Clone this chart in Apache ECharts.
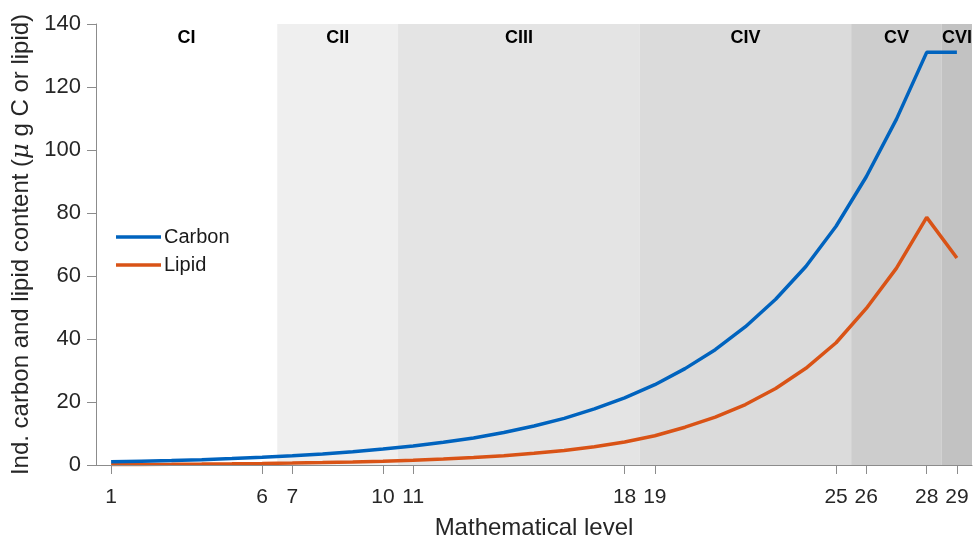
<!DOCTYPE html>
<html>
<head>
<meta charset="utf-8">
<script src="https://cdn.jsdelivr.net/npm/echarts@6/dist/echarts.min.js"></script>
<style>html,body{margin:0;padding:0;background:#fff;}#c{width:974px;height:545px;}</style>
</head>
<body>
<div id="c"></div>
<script>
// Mathematical levels
var levels = [1,2,3,4,5,6,7,8,9,10,11,12,13,14,15,16,17,18,19,20,21,22,23,24,25,26,27,28,29];
// Individual carbon content (µg C)
var carbon = [1.0,1.2,1.4,1.7,2.05,2.45,2.95,3.5,4.2,5.05,6.0,7.2,8.6,10.3,12.4,14.8,17.8,21.3,25.5,30.6,36.6,43.9,52.6,63.0,75.8,91.5,109.8,131,131];
// Individual lipid content (µg lipid)
var lipid = [0.15,0.19,0.24,0.3,0.38,0.48,0.6,0.76,0.95,1.2,1.5,1.9,2.4,2.95,3.7,4.6,5.8,7.3,9.3,12.0,15.2,19.2,24.3,30.7,38.8,49.7,62.5,78.6,65.7];
// Stage names and their level ranges
var stageNames = ['CI','CII','CIII','CIV','CV','CVI'];
var stageStart = [0.5,6.5,10.5,18.5,25.5,28.5];
var stageEnd   = [6.5,10.5,18.5,25.5,28.5,29.5];
var stageColors = ['#ffffff','#efefef','#e4e4e4','#dbdbdb','#cdcdcd','#c2c2c2'];
// X tick labels
var xTicks = [1,6,7,10,11,18,19,25,26,28,29];

var FONT = 'Liberation Sans, Arial, Helvetica, sans-serif';

function pairs(ys){ return levels.map(function(x,i){ return [x, ys[i]]; }); }

var areas = stageNames.map(function(n,i){
  return [{name:n, xAxis:stageStart[i], itemStyle:{color:stageColors[i]}}, {xAxis:stageEnd[i]}];
});

var chart = echarts.init(document.getElementById('c'), null, {renderer:'canvas'});
chart.setOption({
  backgroundColor:'#ffffff',
  animation:false,
  textStyle:{fontFamily:FONT},
  grid:{left:96, right:2, top:24, bottom:75, containLabel:false},
  legend:{
    orient:'vertical', left:111, top:220, icon:'rect', itemWidth:45, itemHeight:3.5, itemGap:4,
    textStyle:{fontFamily:FONT, fontSize:20, color:'#1a1a1a', lineHeight:24, padding:[0,0,0,-2]},
    data:['Carbon','Lipid']
  },
  xAxis:{
    type:'value', min:0.5, max:29.5, z:10,
    name:'Mathematical level', nameLocation:'middle', nameGap:51,
    nameTextStyle:{fontFamily:FONT, fontSize:24, color:'#262626'},
    axisLine:{show:true, onZero:false, lineStyle:{color:'#8c8c8c', width:1}},
    axisTick:{show:true, inside:false, length:9, customValues:xTicks, lineStyle:{color:'#8c8c8c'}},
    axisLabel:{customValues:xTicks, margin:22, fontFamily:FONT, fontSize:21, color:'#262626'},
    splitLine:{show:false}
  },
  yAxis:{
    type:'value', min:0, max:140, interval:20, z:10,
    name:'{a|Ind. carbon and lipid content (}{i|μ}{a| g C or lipid)}',
    nameLocation:'middle', nameGap:58, nameRotate:90,
    nameTextStyle:{fontFamily:FONT, fontSize:24, color:'#262626',
      rich:{a:{fontFamily:FONT, fontSize:24, color:'#262626'}, i:{fontFamily:'DejaVu Serif, serif', fontStyle:'italic', fontSize:24, color:'#262626'}}},
    axisLine:{show:true, onZero:false, lineStyle:{color:'#8c8c8c', width:1}},
    axisTick:{show:true, inside:false, length:9, lineStyle:{color:'#8c8c8c'}},
    axisLabel:{margin:15, fontFamily:FONT, fontSize:22, color:'#262626'},
    splitLine:{show:false}
  },
  series:[
    {
      name:'stages', type:'line', data:[], z:1, silent:true,
      markArea:{
        silent:true,
        label:{show:true, position:'insideTop', distance:5, fontFamily:FONT, fontWeight:'bold', fontSize:18, color:'#000'},
        data:areas
      }
    },
    {
      name:'Carbon', type:'line', data:pairs(carbon), z:3,
      showSymbol:false, symbol:'none', smooth:false,
      lineStyle:{color:'#0063be', width:3.5}, itemStyle:{color:'#0063be'}
    },
    {
      name:'Lipid', type:'line', data:pairs(lipid), z:2,
      showSymbol:false, symbol:'none', smooth:false,
      lineStyle:{color:'#d95316', width:3.5}, itemStyle:{color:'#d95316'}
    }
  ]
});
</script>
</body>
</html>
